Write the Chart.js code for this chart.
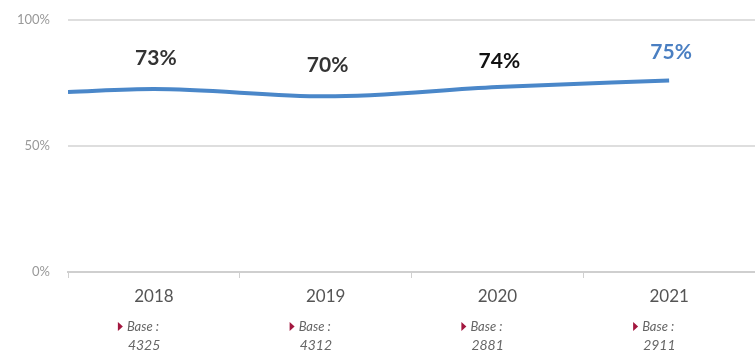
<!DOCTYPE html>
<html>
<head>
<meta charset="utf-8">
<script src="https://cdn.jsdelivr.net/npm/chart.js@4"></script>
<style>
  html, body { margin: 0; padding: 0; background: #fff; }
  #wrap { width: 755px; height: 353px; }
</style>
</head>
<body>
<div id="wrap"><canvas id="myChart" width="755" height="353"></canvas></div>
<script>
const years = ['2018', '2019', '2020', '2021'];
const lineValues = [72.6, 69.7, 73.4, 76];
const startValue = 71.4;
const valueLabels = ['73%', '70%', '74%', '75%'];
const labelColors = ['#333333', '#333333', '#111111', '#4a7fc2'];
const bases = ['4325', '4312', '2881', '2911'];
const yTicks = [0, 50, 100];

const points = [{ x: -0.5, y: startValue }].concat(lineValues.map((v, i) => ({ x: i, y: v })));

// label lift above the line, per point (px)
const lifts = [31, 31, 26, 28];

const labelsPlugin = {
    id: 'labels',
    afterDatasetsDraw(chart) {
        const ctx = chart.ctx;
        const xs = chart.scales.x, ys = chart.scales.y;
        ctx.save();
        ctx.textAlign = 'center';
        ctx.textBaseline = 'middle';
        ctx.font = 'bold 21px Lato';
        lineValues.forEach((v, i) => {
            ctx.fillStyle = labelColors[i];
            ctx.fillText(valueLabels[i], xs.getPixelForValue(i) + 2, ys.getPixelForValue(v) - lifts[i]);
        });
        // base notes under the years
        bases.forEach((b, i) => {
            const cx = xs.getPixelForValue(i);
            ctx.fillStyle = '#a3173f';
            ctx.beginPath();
            ctx.moveTo(cx - 36, 322);
            ctx.lineTo(cx - 31, 326.5);
            ctx.lineTo(cx - 36, 331);
            ctx.closePath();
            ctx.fill();
            ctx.fillStyle = '#666';
            ctx.textAlign = 'left';
            ctx.font = 'italic 13px Lato';
            ctx.fillText('Base :', cx - 27, 327);
            ctx.font = 'italic 14px Lato';
            ctx.fillText(b, cx - 26, 345);
        });
        ctx.restore();
    }
};

new Chart(document.getElementById('myChart').getContext('2d'), {
    type: 'line',
    data: {
        datasets: [{
            data: points,
            borderColor: '#4a87c9',
            borderWidth: 4,
            pointRadius: 0,
            cubicInterpolationMode: 'monotone',
            fill: false
        }]
    },
    options: {
        responsive: false,
        animation: false,
        layout: { padding: { top: 20, right: 0, left: 0, bottom: 0 } },
        plugins: { legend: { display: false }, tooltip: { enabled: false } },
        scales: {
            x: {
                type: 'linear',
                min: -0.5,
                max: 3.5,
                afterBuildTicks: s => {
                    s.ticks = [-0.5, 0, 0.5, 1, 1.5, 2, 2.5, 3, 3.5].map(v => ({ value: v }));
                },
                afterFit: s => { s.height = 81; s.paddingLeft = 0; s.paddingRight = 0; },
                ticks: {
                    autoSkip: false,
                    maxRotation: 0,
                    padding: 8,
                    color: '#555',
                    font: { family: 'Lato', size: 17 },
                    callback: v => Number.isInteger(v) ? years[v] : ''
                },
                grid: {
                    drawOnChartArea: false,
                    tickLength: 6,
                    color: ctx => (ctx.tick && Number.isInteger(ctx.tick.value)) ? 'rgba(0,0,0,0)' : '#d0d0d0'
                },
                border: { color: '#cfcfcf', width: 2 }
            },
            y: {
                min: 0,
                max: 100,
                afterBuildTicks: s => { s.ticks = yTicks.map(v => ({ value: v })); },
                afterFit: s => { s.width = 68; s.paddingTop = 0; s.paddingBottom = 0; },
                ticks: {
                    padding: 18,
                    color: '#999',
                    font: { family: 'Lato', size: 13 },
                    callback: v => v + '%'
                },
                grid: { drawTicks: false, color: '#dedede', lineWidth: 2 },
                border: { display: false }
            }
        }
    },
    plugins: [labelsPlugin]
});
</script>
</body>
</html>
